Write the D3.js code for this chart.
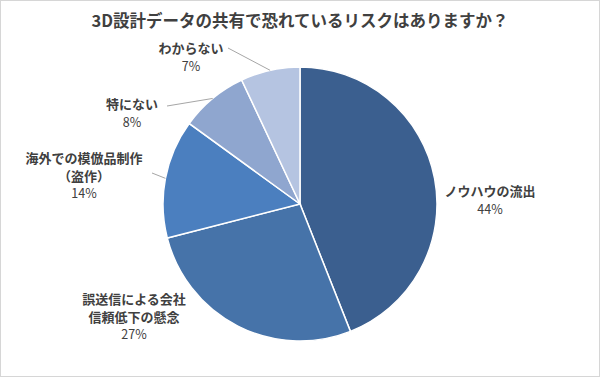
<!DOCTYPE html>
<html>
<head>
<meta charset="utf-8">
<script src="https://cdn.jsdelivr.net/npm/d3@7"></script>
<style>
  html, body { margin: 0; padding: 0; background: #fff; }
  svg { display: block; font-family: "Noto Sans CJK JP", "Noto Sans", sans-serif; }
</style>
</head>
<body>
<svg id="chart" width="600" height="377"></svg>
<script>
// 円グラフ：3Dデータ共有のリスク
const TITLE = "3D設計データの共有で恐れているリスクはありますか？";
const categories = [
  ["ノウハウの流出"],
  ["誤送信による会社", "信頼低下の懸念"],
  ["海外での模倣品制作", "（盗作）"],
  ["特にない"],
  ["わからない"]
];
const values = [44, 27, 14, 8, 7];
const colors = ["#3b5f8f", "#4673a9", "#4b7fbf", "#8fa6cf", "#b5c4e1"];

// ラベルの位置（テキストブロック中心）と引き出し線の始点
const labelPos = [
  { x: 490, y: 190, line: null },
  { x: 134, y: 298, line: null },
  { x: 84, y: 157, line: [152, 173] },
  { x: 132, y: 103, line: [167, 106] },
  { x: 191, y: 47, line: [228, 48] }
];

const svg = d3.select("#chart");
const W = 600, H = 377;
const cx = 300, cy = 204, R = 137;

svg.append("rect").attr("x", 0.5).attr("y", 0.5)
  .attr("width", W - 1).attr("height", H - 1)
  .attr("fill", "#fff").attr("stroke", "#d6d6d6");

svg.append("text")
  .attr("x", W / 2).attr("y", 20)
  .attr("text-anchor", "middle").attr("dominant-baseline", "central")
  .style("font-size", "16.5px").style("font-weight", "bold").style("fill", "#404040")
  .text(TITLE);

const data = values.map((v, i) => ({ value: v, lines: categories[i], i }));
const pie = d3.pie().value((d) => d.value).sort(null);
const arc = d3.arc().innerRadius(0).outerRadius(R);
const arcs = pie(data);

const g = svg.append("g").attr("transform", `translate(${cx},${cy})`);
g.selectAll("path").data(arcs).join("path")
  .attr("d", arc)
  .attr("fill", (d) => colors[d.data.i])
  .attr("stroke", "#fff").attr("stroke-width", 1.5);

// 引き出し線：ラベル側の始点から扇形の中央角の外周まで
arcs.forEach((a) => {
  const p = labelPos[a.data.i];
  if (!p.line) return;
  const mid = (a.startAngle + a.endAngle) / 2;
  svg.append("line")
    .attr("x1", p.line[0]).attr("y1", p.line[1])
    .attr("x2", cx + R * Math.sin(mid)).attr("y2", cy - R * Math.cos(mid))
    .attr("stroke", "#a6a6a6").attr("stroke-width", 1);
});

const lineH = 17.5;
data.forEach((d) => {
  const p = labelPos[d.i];
  const t = svg.append("text")
    .attr("text-anchor", "middle").attr("dominant-baseline", "central")
    .style("fill", "#404040");
  d.lines.forEach((ln, k) => {
    t.append("tspan").attr("x", p.x).attr("y", p.y + k * lineH)
      .style("font-size", "13px").style("font-weight", "bold").text(ln);
  });
  t.append("tspan").attr("x", p.x).attr("y", p.y + d.lines.length * lineH)
    .style("font-size", "12.5px").text(d.value + "%");
});
</script>
</body>
</html>
